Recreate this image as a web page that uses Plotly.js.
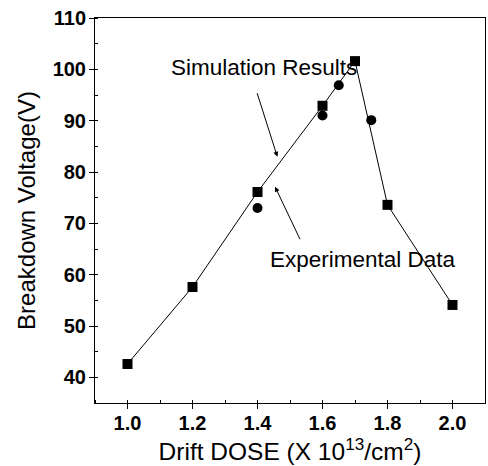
<!DOCTYPE html>
<html>
<head>
<meta charset="utf-8">
<script src="https://cdn.plot.ly/plotly-3.0.1.min.js"></script>
<style>html,body{margin:0;padding:0;background:#fff;}#chart{width:488px;height:466px;}</style>
</head>
<body>
<div id="chart"></div>
<script>
// Simulation results (squares, connected)
const doseSim = [1.0, 1.2, 1.4, 1.6, 1.7, 1.8, 2.0];
const vbSim = [42.6, 57.6, 76.1, 92.9, 101.6, 73.6, 54.1];
// Experimental data (circles)
const doseExp = [1.4, 1.6, 1.65, 1.75];
const vbExp = [73.0, 91.0, 96.9, 90.1];
// Tick values
const xTicks = [1.0, 1.2, 1.4, 1.6, 1.8, 2.0];
const xTickText = ['1.0', '1.2', '1.4', '1.6', '1.8', '2.0'];
const yTicks = [40, 50, 60, 70, 80, 90, 100, 110];

const FONT = 'Liberation Sans, Arial, sans-serif';

const traces = [
  {
    x: doseSim, y: vbSim, type: 'scatter', mode: 'lines+markers',
    line: {color: '#000', width: 1},
    marker: {symbol: 'square', size: 10, color: '#000'},
    showlegend: false, cliponaxis: false
  },
  {
    x: doseExp, y: vbExp, type: 'scatter', mode: 'markers',
    marker: {symbol: 'circle', size: 10, color: '#000'},
    showlegend: false, cliponaxis: false
  }
];

const layout = {
  width: 488, height: 466,
  margin: {l: 95, r: 3, t: 18, b: 63},
  paper_bgcolor: '#fff', plot_bgcolor: '#fff',
  font: {family: FONT, color: '#000'},
  showlegend: false,
  xaxis: {
    range: [0.9, 2.1],
    tickvals: xTicks, ticktext: xTickText,
    ticks: 'outside', ticklen: 5, tickwidth: 1, tickcolor: '#000',
    minor: {dtick: 0.1, ticks: 'inside', ticklen: 3, tickcolor: '#000'},
    showgrid: false, zeroline: false,
    showline: true, linecolor: '#000', linewidth: 1, mirror: true,
    ticklabelstandoff: -3,
    tickfont: {family: FONT, size: 20, weight: 'bold', color: '#000'},
    title: {text: 'Drift DOSE (X 10<sup>13</sup>/cm<sup>2</sup>)', font: {family: FONT, size: 24.5, color: '#000'}, standoff: 8}
  },
  yaxis: {
    range: [35, 110],
    tickvals: yTicks,
    ticks: 'outside', ticklen: 5, tickwidth: 1, tickcolor: '#000',
    minor: {dtick: 5, ticks: 'inside', ticklen: 3, tickcolor: '#000'},
    showgrid: false, zeroline: false,
    showline: true, linecolor: '#000', linewidth: 1, mirror: true,
    ticklabelstandoff: -1,
    tickfont: {family: FONT, size: 20, weight: 'bold', color: '#000'},
    title: {text: 'Breakdown Voltage(V)', font: {family: FONT, size: 24, color: '#000'}, standoff: 10}
  },
  annotations: [
    {x: 1.42, y: 100.3, xref: 'x', yref: 'y', text: 'Simulation Results', showarrow: false,
     xanchor: 'center', yanchor: 'middle', font: {family: FONT, size: 22.5, color: '#000'}},
    {x: 1.461, y: 82.98, ax: 1.3975, ay: 95.64, xref: 'x', yref: 'y', axref: 'x', ayref: 'y',
     text: '', showarrow: true, arrowhead: 2, arrowsize: 1, arrowwidth: 1, arrowcolor: '#000'},
    {x: 1.7246, y: 63.05, xref: 'x', yref: 'y', text: 'Experimental Data', showarrow: false,
     xanchor: 'center', yanchor: 'middle', font: {family: FONT, size: 22.5, color: '#000'}},
    {x: 1.454, y: 77.13, ax: 1.533, ay: 66.61, xref: 'x', yref: 'y', axref: 'x', ayref: 'y',
     text: '', showarrow: true, arrowhead: 2, arrowsize: 1, arrowwidth: 1, arrowcolor: '#000'}
  ]
};

Plotly.newPlot('chart', traces, layout, {displayModeBar: false, staticPlot: true});
</script>
</body>
</html>
